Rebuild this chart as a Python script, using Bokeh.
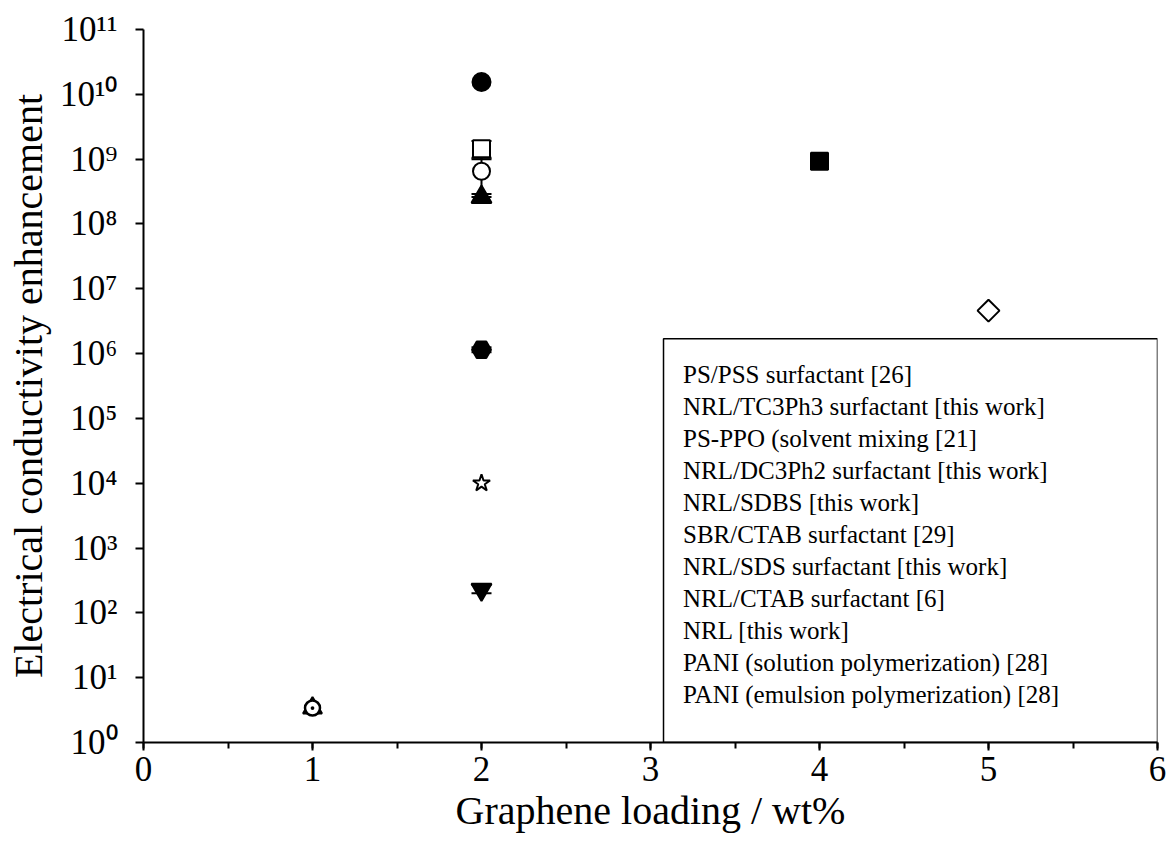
import math
from bokeh.plotting import figure
from bokeh.models import (ColumnDataSource, Whisker, TeeHead, Legend, LegendItem,
                          BoxAnnotation, FixedTicker, SingleIntervalTicker, CustomJSTickFormatter,
                          Range1d)
from bokeh.embed import file_html
from bokeh.resources import INLINE

# ---------------- data ----------------
series = [
    "PS/PSS surfactant [26]",
    "NRL/TC3Ph3 surfactant [this work]",
    "PS-PPO (solvent mixing [21]",
    "NRL/DC3Ph2 surfactant [this work]",
    "NRL/SDBS [this work]",
    "SBR/CTAB surfactant [29]",
    "NRL/SDS surfactant [this work]",
    "NRL/CTAB surfactant [6]",
    "NRL [this work]",
    "PANI (solution polymerization) [28]",
    "PANI (emulsion polymerization) [28]",
]
loading = [5, 2, 4, 2, 2, 2, 2, 2, 2, 1, 1]
enhancement = [4.6e6, 1.55e10, 9.3e8, 1.45e9, 6.5e8, 1.0e4, 2.6e8, 1.15e6, 230, 3.4, 3.4]
err_low = [None, None, None, 1.0e9, 2.6e8, None, 2.1e8, 1.05e6, 200, None, None]
err_high = [None, None, None, 1.9e9, 1.05e9, None, 2.9e8, 1.25e6, 270, None, None]
markers = ["square", "circle", "square", "square", "circle", "star", "triangle",
           "hex", "inverted_triangle", "circle_dot", "triangle"]
filled = [False, True, True, False, False, False, True, True, True, False, True]
sizes = [15.5, 18, 17, 17, 17, 18, 20, 19, 20, 15, 19]
angles = [math.pi / 4, 0, 0, 0, 0, 0, 0, 0, 0, 0, 0]

y_ticks = [10 ** i for i in range(12)]

FONT = "Liberation Serif"

p = figure(width=1171, height=851, output_backend="svg", toolbar_location=None,
           y_axis_type="log", x_range=Range1d(0, 6), y_range=Range1d(1, 1e11),
           min_border_left=143, min_border_right=14, min_border_top=29, min_border_bottom=109)
p.outline_line_color = None
p.xgrid.visible = False
p.ygrid.visible = False

# error bars
eb = {"x": [], "lo": [], "hi": []}
for xv, lo, hi in zip(loading, err_low, err_high):
    if lo is not None:
        eb["x"].append(xv)
        eb["lo"].append(lo)
        eb["hi"].append(hi)
ebs = ColumnDataSource(eb)
p.add_layout(Whisker(source=ebs, base="x", lower="lo", upper="hi", line_width=2, line_color="black",
                     upper_head=TeeHead(size=20, line_width=2, line_color="black"),
                     lower_head=TeeHead(size=20, line_width=2, line_color="black")))

order = [0, 1, 2, 3, 4, 5, 6, 7, 8, 10, 9]
rmap = {}
for i in order:
    src = ColumnDataSource(dict(x=[loading[i]], y=[enhancement[i]]))
    r = p.scatter("x", "y", source=src, marker=markers[i], size=sizes[i], angle=angles[i],
                  fill_color="black" if filled[i] else "white", line_color="black",
                  line_width=2.5 if markers[i] == "circle_dot" else 2)
    rmap[i] = r

items = [LegendItem(label=series[i], renderers=[rmap[i]]) for i in range(len(series))]
legend = Legend(items=items, location=(520, 11), glyph_width=0, glyph_height=32, label_height=32,
                label_standoff=0, spacing=0, padding=20, label_text_font=FONT,
                label_text_font_size="25px", label_text_color="black",
                border_line_alpha=0, background_fill_alpha=0)
p.add_layout(legend)

p.add_layout(BoxAnnotation(left=3.077, right=6, bottom=1, top=1.7e6, fill_alpha=0,
                           line_color="black", line_alpha=1, line_width=1.5))

# axes
for ax in (p.xaxis[0], p.yaxis[0]):
    ax.axis_line_width = 2
    ax.axis_line_color = "black"
    ax.major_tick_line_width = 2
    ax.major_tick_line_color = "black"
    ax.major_tick_in = 0
    ax.major_tick_out = 8
    ax.major_label_text_font = FONT
    ax.major_label_text_font_size = "35px"
    ax.major_label_text_color = "black"
    ax.axis_label_text_font = FONT
    ax.axis_label_text_font_size = "40px"
    ax.axis_label_text_font_style = "normal"
    ax.axis_label_text_color = "black"

p.xaxis.ticker = SingleIntervalTicker(interval=1, num_minor_ticks=2)
p.xaxis.minor_tick_line_width = 2
p.xaxis.minor_tick_line_color = "black"
p.xaxis.minor_tick_in = 0
p.xaxis.minor_tick_out = 6
p.xaxis.major_label_standoff = 6
p.xaxis.axis_label = "Graphene loading / wt%"
p.xaxis.axis_label_standoff = 4

p.yaxis.ticker = FixedTicker(ticks=y_ticks, minor_ticks=[])
p.yaxis.minor_tick_line_color = None
p.yaxis.major_label_standoff = 18
p.yaxis.axis_label = "Electrical conductivity enhancement"
p.yaxis.axis_label_standoff = 6
p.yaxis.formatter = CustomJSTickFormatter(code="""
const sup = {"0":"\u2070","1":"\u00b9","2":"\u00b2","3":"\u00b3","4":"\u2074",
             "5":"\u2075","6":"\u2076","7":"\u2077","8":"\u2078","9":"\u2079","-":"\u207b"};
const e = Math.round(Math.log10(tick));
return "10" + String(e).split("").map(c => sup[c]).join("");
""")

open("out.html", "w").write(file_html(p, INLINE))
